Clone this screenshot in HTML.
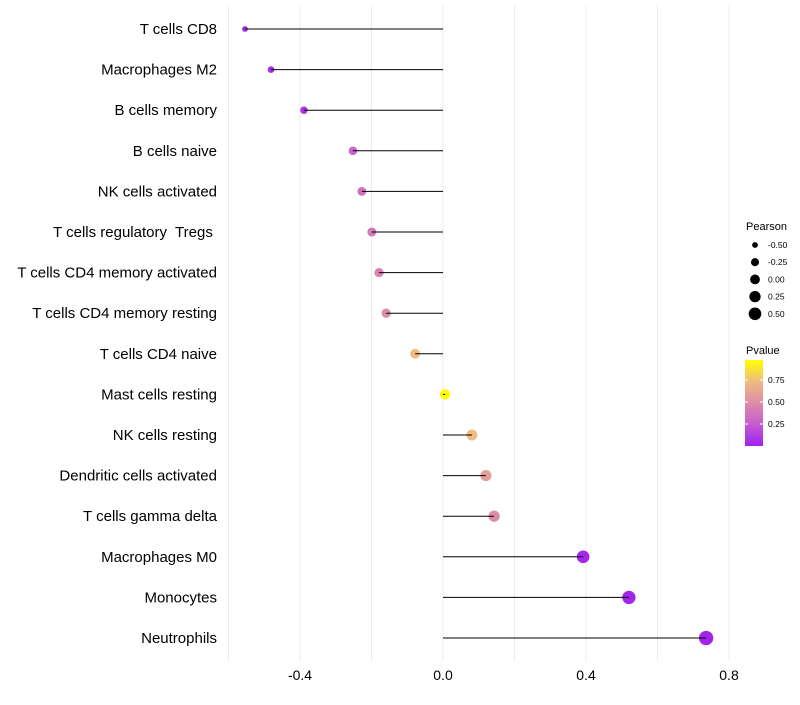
<!DOCTYPE html>
<html><head><meta charset="utf-8"><style>
body{margin:0;background:#fff;font-family:"Liberation Sans",sans-serif}
text{white-space:pre}
</style></head><body>
<svg id="c" width="800" height="700" xmlns="http://www.w3.org/2000/svg" font-family="Liberation Sans, sans-serif"></svg>
<script>
const categories=["T cells CD8","Macrophages M2","B cells memory","B cells naive","NK cells activated","T cells regulatory  Tregs ","T cells CD4 memory activated","T cells CD4 memory resting","T cells CD4 naive","Mast cells resting","NK cells resting","Dendritic cells activated","T cells gamma delta","Macrophages M0","Monocytes","Neutrophils"];
const pearson=[-0.554,-0.481,-0.389,-0.252,-0.227,-0.199,-0.179,-0.159,-0.078,0.006,0.081,0.120,0.143,0.392,0.520,0.736];
const pvalue=[0.05,0.05,0.08,0.3,0.35,0.4,0.45,0.5,0.75,0.98,0.75,0.6,0.5,0.03,0.02,0.02];
const xTicks=[-0.4,0.0,0.4,0.8];
const xTickLabels=["-0.4","0.0","0.4","0.8"];
const gridMinor=[-0.6,-0.2,0.2,0.6];
const sizeLegend=[-0.5,-0.25,0,0.25,0.5];
const sizeLegendLabels=["-0.50","-0.25","0.00","0.25","0.50"];
const colorTicks=[0.25,0.5,0.75];
const colorTickLabels=["0.25","0.50","0.75"];

const svg=document.getElementById('c');
const NS="http://www.w3.org/2000/svg";
const x=v=>443+v*357.5;
const y=i=>29+i*40.6;
const r=v=>Math.sqrt(Math.max(1,27+33.4*v));
const stops=[[0,[160,32,240]],[0.25,[197,92,208]],[0.5,[220,140,168]],[0.75,[239,187,128]],[1,[255,255,0]]];
function col(p){for(let k=1;k<stops.length;k++){if(p<=stops[k][0]){const a=stops[k-1],b=stops[k];const t=(p-a[0])/(b[0]-a[0]);const c=a[1].map((v,j)=>Math.round(v+(b[1][j]-v)*t));return `rgb(${c})`;}}return 'rgb(255,255,0)';}
function mk(tag,attrs,parent){const e=document.createElementNS(NS,tag);for(const k in attrs)e.setAttribute(k,attrs[k]);(parent||svg).appendChild(e);return e;}

gridMinor.concat(xTicks).forEach(v=>{
  const g=mk('line',{x1:x(v),x2:x(v),y1:5,y2:660,stroke:'#ebebeb','stroke-width':1});
  
  
});
xTicks.forEach((v,i)=>{
  const t=mk('text',{x:x(v),y:680,'text-anchor':'middle','font-size':14,fill:'#000'});
  t.textContent=xTickLabels[i];
  
  
});
categories.forEach((c,i)=>{
  const t=mk('text',{x:217,y:y(i)+5,'text-anchor':'end','font-size':15,fill:'#000'});
  t.textContent=c;
  
  
  const p=mk('circle',{cx:x(pearson[i]),cy:y(i),r:r(pearson[i]),fill:col(pvalue[i])});
  
  
  const l=mk('line',{x1:x(0),x2:x(pearson[i]),y1:y(i),y2:y(i),stroke:'#000','stroke-width':1});
  
  
});
const st=mk('text',{x:746,y:230,'font-size':11,fill:'#000'});st.textContent='Pearson';


sizeLegend.forEach((v,i)=>{
  const cy=245+i*17.2;
  const c=mk('circle',{cx:755,cy:cy,r:r(v)-0.3,fill:'#000'});
  
  
  const t=mk('text',{x:768,y:cy+3,'font-size':8.5,fill:'#000'});t.textContent=sizeLegendLabels[i];
  
  
});
const ct=mk('text',{x:746,y:354,'font-size':11,fill:'#000'});ct.textContent='Pvalue';


const defs=mk('defs',{});
const lg=mk('linearGradient',{id:'g',x1:0,y1:1,x2:0,y2:0},defs);
stops.forEach(s=>mk('stop',{offset:s[0],'stop-color':col(s[0])},lg));
const cb=mk('rect',{x:745,y:360,width:18,height:86,fill:'url(#g)'});


const cy=v=>446-v*88;
colorTicks.forEach((v,i)=>{
  mk('line',{x1:745,x2:748,y1:cy(v),y2:cy(v),stroke:'#fff'});
  mk('line',{x1:760,x2:763,y1:cy(v),y2:cy(v),stroke:'#fff'});
  const t=mk('text',{x:768,y:cy(v)+3,'font-size':8.5,fill:'#000'});t.textContent=colorTickLabels[i];
  
  
});
</script>
</body></html>
